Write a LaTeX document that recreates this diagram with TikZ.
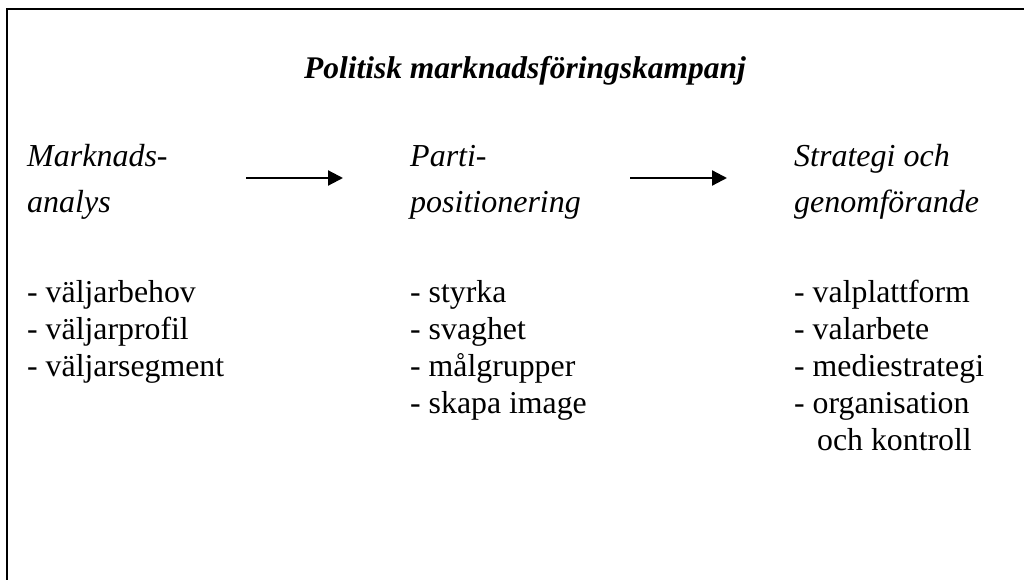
\documentclass[tikz,border=0pt]{standalone}
\usepackage{fontspec}
\setmainfont{Liberation Serif}
\usetikzlibrary{arrows.meta}
\tikzset{
  frame/.style={line width=2pt, line cap=rect},
  titletext/.style={font=\fontsize{31.5}{36}\selectfont\bfseries\itshape, inner sep=0pt, anchor=base},
  headtext/.style={font=\fontsize{32}{37}\selectfont\itshape, inner sep=0pt, anchor=base west},
  itemtext/.style={font=\fontsize{31.8}{37}\selectfont, inner sep=0pt, anchor=base west},
  flow/.style={line width=2.2pt, -{Triangle[length=15pt,width=15pt]}}
}
\begin{document}
\begin{tikzpicture}[x=1pt,y=-1pt]
\useasboundingbox (0,0) rectangle (1024,580);
\draw[frame] (7,580) -- (7,9) -- (1024,9);
\node[titletext] (title) at (525,79) {Politisk marknadsföringskampanj};
% column 1
\node[headtext] (h1a) at (27,167) {Marknads-};
\node[headtext] (h1b) at (27,212) {analys};
\node[itemtext] (i1a) at (27,302) {- väljarbehov};
\node[itemtext] (i1b) at (27,339) {- väljarprofil};
\node[itemtext] (i1c) at (27,376) {- väljarsegment};
% column 2
\node[headtext] (h2a) at (410,167) {Parti-};
\node[headtext] (h2b) at (410,212) {positionering};
\node[itemtext] (i2a) at (410,302) {- styrka};
\node[itemtext] (i2b) at (410,339) {- svaghet};
\node[itemtext] (i2c) at (410,376) {- målgrupper};
\node[itemtext] (i2d) at (410,413) {- skapa image};
% column 3
\node[headtext] (h3a) at (794,167) {Strategi och};
\node[headtext] (h3b) at (794,212) {genomförande};
\node[itemtext] (i3a) at (794,302) {- valplattform};
\node[itemtext] (i3b) at (794,339) {- valarbete};
\node[itemtext] (i3c) at (794,376) {- mediestrategi};
\node[itemtext] (i3d) at (794,413) {- organisation};
\node[itemtext] (i3e) at (817,450) {och kontroll};
% arrows
\coordinate (a1s) at (246,178);
\coordinate (a1e) at (343,178);
\coordinate (a2s) at (630,178);
\coordinate (a2e) at (727,178);
\draw[flow] (a1s) -- (a1e);
\draw[flow] (a2s) -- (a2e);
\end{tikzpicture}
\end{document}
